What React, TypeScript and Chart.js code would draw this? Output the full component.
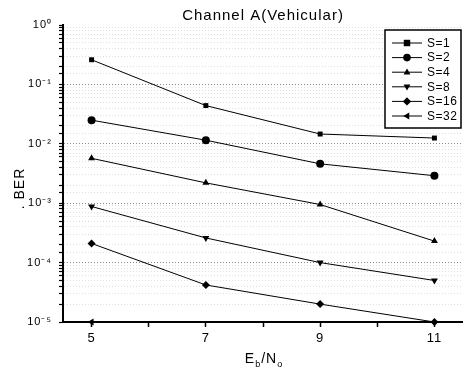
import React, { useEffect, useRef } from "react";
import { Chart, registerables } from "chart.js";

Chart.register(...registerables);

const xValues = [5, 7, 9, 11];
const xTickLabels = ["5", "7", "9", "11"];
const seriesNames = ["S=1", "S=2", "S=4", "S=8", "S=16", "S=32"];
const s1 = [0.26, 0.044, 0.0146, 0.0125];
const s2 = [0.025, 0.0115, 0.0046, 0.0029];
const s4 = [0.0057, 0.0022, 0.00095, 0.00023];
const s8 = [0.00088, 0.00026, 0.0001, 0.00005];
const s16 = [0.00021, 0.000042, 0.00002, 0.00001];
const s32: (number | null)[] = [0.00001, null, null, null];
const seriesValues = [s1, s2, s4, s8, s16, s32];
const pointStyles = ["rect", "circle", "triangle", "triangle", "rectRot", "triangle"];
const pointRotations = [0, 0, 0, 180, 0, -90];

const SUP: Record<string, string> = { "0": "⁰", "1": "¹", "2": "²", "3": "³", "4": "⁴", "5": "⁵", "-": "⁻" };
const FONT = "Arial, 'Liberation Sans', sans-serif";

function drawMarker(ctx: CanvasRenderingContext2D, style: string, rot: number, x: number, y: number, r: number) {
  ctx.save();
  ctx.translate(x, y);
  ctx.rotate((rot * Math.PI) / 180);
  ctx.beginPath();
  if (style === "rect") {
    ctx.rect(-r * 0.85, -r * 0.85, r * 1.7, r * 1.7);
  } else if (style === "circle") {
    ctx.arc(0, 0, r, 0, Math.PI * 2);
  } else if (style === "rectRot") {
    ctx.moveTo(0, -r * 1.1);
    ctx.lineTo(r * 1.1, 0);
    ctx.lineTo(0, r * 1.1);
    ctx.lineTo(-r * 1.1, 0);
    ctx.closePath();
  } else {
    const h = r * 1.5;
    ctx.moveTo(0, -h * 0.66);
    ctx.lineTo(h * 0.6, h * 0.4);
    ctx.lineTo(-h * 0.6, h * 0.4);
    ctx.closePath();
  }
  ctx.fillStyle = "#000";
  ctx.fill();
  ctx.restore();
}

const spacingPlugin = {
  id: "spacing",
  beforeDraw(chart: any) {
    (chart.ctx as any).letterSpacing = "1px";
  },
};

const decorPlugin = {
  id: "decor",
  afterDraw(chart: any) {
    const ctx: CanvasRenderingContext2D = chart.ctx;
    const ca = chart.chartArea;
    ctx.save();
    (ctx as any).letterSpacing = "0.5px";
    // legend box
    const lx = 385, ly = 30, lw = 76, lh = 98;
    ctx.fillStyle = "#fff";
    ctx.fillRect(lx, ly, lw, lh);
    ctx.strokeStyle = "#000";
    ctx.lineWidth = 1.5;
    ctx.strokeRect(lx, ly, lw, lh);
    ctx.font = `12px ${FONT}`;
    ctx.textBaseline = "middle";
    ctx.textAlign = "left";
    seriesNames.forEach((name, i) => {
      const y = ly + 13 + i * 14.6;
      ctx.strokeStyle = "#000";
      ctx.lineWidth = 1;
      ctx.beginPath();
      ctx.moveTo(lx + 7, y);
      ctx.lineTo(lx + 37, y);
      ctx.stroke();
      drawMarker(ctx, pointStyles[i], pointRotations[i], lx + 22, y, 3.8);
      ctx.fillStyle = "#000";
      ctx.fillText(name, lx + 42, y + 0.5);
    });
    (ctx as any).letterSpacing = "1px";
    // y axis title
    ctx.save();
    ctx.translate(20, (ca.top + ca.bottom) / 2 + 15);
    ctx.rotate(-Math.PI / 2);
    ctx.font = `14px ${FONT}`;
    ctx.textAlign = "center";
    ctx.textBaseline = "middle";
    ctx.fillStyle = "#000";
    ctx.fillText(". BER", 0, 0);
    ctx.restore();
    // x axis title E_b/N_o
    const parts = [
      { t: "E", s: 14, dy: 0 },
      { t: "b", s: 9, dy: 4 },
      { t: "/N", s: 14, dy: 0 },
      { t: "o", s: 9, dy: 4 },
    ];
    let total = 0;
    parts.forEach((p) => {
      ctx.font = `${p.s}px ${FONT}`;
      total += ctx.measureText(p.t).width;
    });
    let x = 264 - total / 2;
    const by = 363;
    ctx.textAlign = "left";
    ctx.textBaseline = "alphabetic";
    ctx.fillStyle = "#000";
    parts.forEach((p) => {
      ctx.font = `${p.s}px ${FONT}`;
      ctx.fillText(p.t, x, by + p.dy);
      x += ctx.measureText(p.t).width;
    });
    ctx.restore();
    (ctx as any).letterSpacing = "0px";
  },
};

function isDecade(v: number) {
  const l = Math.log10(v);
  return Math.abs(l - Math.round(l)) < 1e-9;
}

export default function App() {
  const ref = useRef<HTMLCanvasElement>(null);
  useEffect(() => {
    if (!ref.current) return;
    const datasets = seriesNames.map((name, i) => ({
      label: name,
      data: xValues.map((x, j) => ({ x, y: seriesValues[i][j] })),
      borderColor: "#000",
      backgroundColor: "#000",
      borderWidth: 1,
      pointStyle: pointStyles[i],
      rotation: pointRotations[i],
      pointRadius: pointStyles[i] === "rect" ? 3.5 : 4,
      pointBorderWidth: 0,
      spanGaps: false,
      clip: 6,
    }));
    const chart = new Chart(ref.current, {
      type: "line",
      data: { datasets },
      plugins: [spacingPlugin, decorPlugin],
      options: {
        animation: false,
        responsive: false,
        layout: { autoPadding: false, padding: { left: 0, right: 0, top: 0, bottom: 0 } },
        plugins: {
          legend: { display: false },
          tooltip: { enabled: false },
          title: {
            display: true,
            text: "Channel A(Vehicular)",
            fullSize: false,
            color: "#000",
            font: { family: FONT, size: 15, weight: "normal", lineHeight: 1.2 },
            padding: { top: 7, bottom: 0 },
          },
        },
        scales: {
          x: {
            type: "linear",
            min: 4.5,
            max: 11.5,
            afterBuildTicks: (scale: any) => {
              scale.ticks = [5, 6, 7, 8, 9, 10, 11].map((v) => ({ value: v }));
            },
            afterFit: (scale: any) => {
              scale.height = 50;
            },
            ticks: {
              autoSkip: false,
              maxRotation: 0,
              color: "#000",
              padding: 4,
              font: { family: FONT, size: 13 },
              callback: (v: any) => {
                const i = xValues.indexOf(Number(v));
                return i >= 0 ? xTickLabels[i] : "";
              },
            },
            grid: {
              drawOnChartArea: false,
              tickLength: 5,
              tickColor: "#000",
              tickWidth: 1.5,
            },
            border: { display: true, color: "#000", width: 2 },
          },
          y: {
            type: "logarithmic",
            min: 1e-5,
            max: 1,
            afterFit: (scale: any) => {
              scale.width = 63;
            },
            ticks: {
              autoSkip: false,
              color: "#000",
              padding: 7,
              font: { family: FONT, size: 11 },
              callback: (v: any) => {
                const n = Number(v);
                if (!isDecade(n)) return "";
                const e = String(Math.round(Math.log10(n)));
                return "10" + e.split("").map((c) => SUP[c] || c).join("");
              },
            },
            grid: {
              color: (c: any) => {
                const v = c.tick ? c.tick.value : 0;
                if (v >= 1 || v <= 1e-5) return "rgba(0,0,0,0)";
                return isDecade(v) ? "#8a8a8a" : "#dedede";
              },
              lineWidth: 1,
              tickLength: 4,
              tickColor: "#000",
              tickWidth: 1.2,
              tickBorderDash: [],
            },
            border: { display: true, color: "#000", width: 2, dash: [1, 2] },
          },
        },
      },
    } as any);
    return () => chart.destroy();
  }, []);
  return (
    <div style={{ position: "absolute", left: 0, top: 0, width: 463, height: 372, background: "#fff" }}>
      <canvas ref={ref} width={463} height={372} />
    </div>
  );
}
